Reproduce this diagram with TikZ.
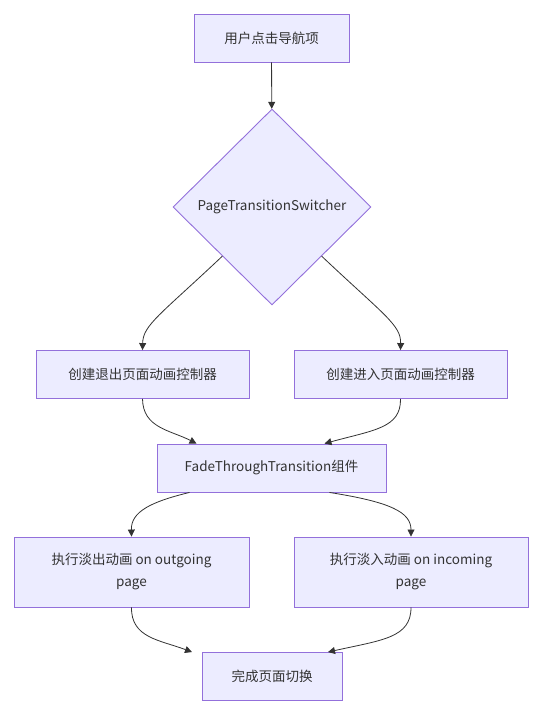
\documentclass[tikz,border=0pt]{standalone}
\usepackage{fontspec}
\setmainfont{Noto Sans CJK SC}
\usetikzlibrary{arrows.meta,shapes.geometric,calc}
\definecolor{boxfill}{HTML}{ECECFF}
\definecolor{boxline}{HTML}{9370DB}
\definecolor{ink}{HTML}{333333}
\begin{document}
\begin{tikzpicture}[
    x=1pt, y=-1pt,
    node/.style={
        rectangle,
        minimum height=48pt,
        inner sep=0pt,
        draw=boxline,
        fill=boxfill,
        line width=0.9pt,
        text=ink,
        font=\fontsize{13.5}{22}\selectfont,
        align=center
    },
    flow/.style={
        -{Triangle[length=7pt,width=7pt]},
        draw=ink,
        line width=0.8pt
    }
]
\useasboundingbox (0,0) rectangle (548,708);

\node[node, minimum width=155pt] (click) at (271.5,38) {用户点击导航项};
\node[node, shape=diamond, minimum width=198pt, minimum height=196pt] (switcher) at (272,207) {PageTransitionSwitcher};
\node[node, minimum width=213pt] (outctl) at (142.5,374.5) {创建退出页面动画控制器};
\node[node, minimum width=213pt] (inctl) at (400.5,374.5) {创建进入页面动画控制器};
\node[node, minimum width=229pt] (fade) at (271.5,468) {FadeThroughTransition组件};
\node[node, minimum width=235pt, minimum height=70pt] (outrun) at (131.5,572) {执行淡出动画 on outgoing\\page};
\node[node, minimum width=234pt, minimum height=70pt] (inrun) at (411,572) {执行淡入动画 on incoming\\page};
\node[node, minimum width=140pt] (done) at (272,676.5) {完成页面切换};

\draw[flow] (click) -- (switcher);
\draw[flow] (switcher.south west) .. controls (160,315) and (143,325) .. (outctl.north);
\draw[flow] (switcher.south east) .. controls (384,315) and (401,325) .. (inctl.north);
\draw[flow] (outctl.south) .. controls (143,428) and (170,430) .. ($(fade.north)+(-75,0)$);
\draw[flow] (inctl.south) .. controls (401,428) and (374,430) .. ($(fade.north)+(53,0)$);
\draw[flow] ($(fade.south)+(-82,0)$) .. controls (150,502) and (131,512) .. (outrun.north);
\draw[flow] ($(fade.south)+(58,0)$) .. controls (390,502) and (411,512) .. (inrun.north);
\draw[flow] (outrun.south) .. controls (131,638) and (160,640) .. ($(done.north)+(-80,0)$);
\draw[flow] (inrun.south) .. controls (411,638) and (382,640) .. ($(done.north)+(56,0)$);

\end{tikzpicture}
\end{document}
